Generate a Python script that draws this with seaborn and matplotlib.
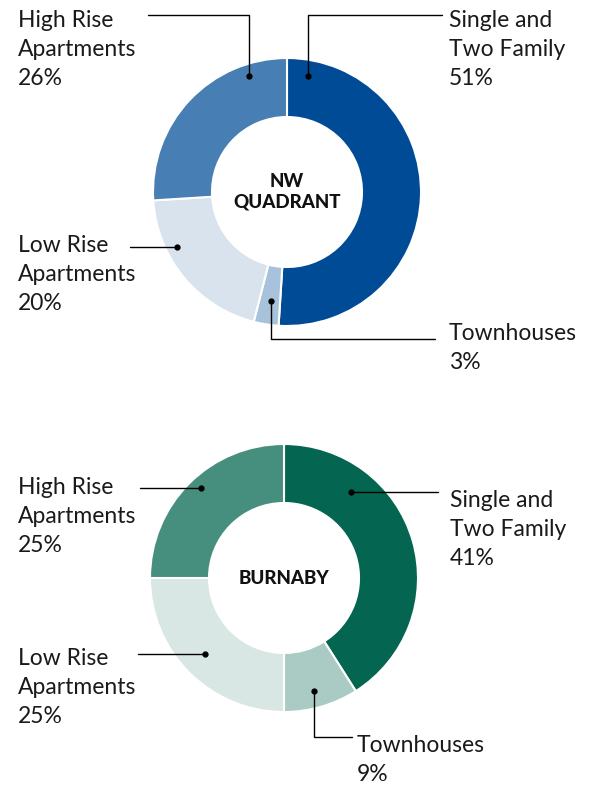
import matplotlib
matplotlib.use("Agg")
import matplotlib.pyplot as plt
import seaborn as sns

# data (clockwise from 12 o'clock)
categories = ["Single and\nTwo Family", "Townhouses", "Low Rise\nApartments", "High Rise\nApartments"]
nw_values = [51, 3, 20, 26]
burnaby_values = [41, 9, 25, 25]
nw_colors = ["#004B96", "#A9C2DC", "#D9E3EE", "#477EB3"]
burnaby_colors = ["#046650", "#A9CBC3", "#D8E7E3", "#468E7E"]

W, H = 596, 785

sns.set_theme(style="white")
plt.rcParams["font.family"] = ["Lato", "DejaVu Sans"]

fig = plt.figure(figsize=(W / 100, H / 100), dpi=100)
ax = fig.add_axes([0, 0, 1, 1])


def py(y):
    # pixel row (from top) -> data y
    return H - y


def donut(values, colors, cx, cy, title):
    ax.pie(values, colors=colors, startangle=90, counterclock=False,
           center=(cx, py(cy)), radius=134,
           wedgeprops=dict(width=59, edgecolor="white", linewidth=1.5))
    ax.text(cx, py(cy), title, ha="center", va="center", fontsize=13.5,
            fontweight="black", color="#111111", linespacing=1.25)


def leader(points, label, value, tx, ty):
    xs = [p[0] for p in points]
    ys = [py(p[1]) for p in points]
    ax.plot(xs, ys, color="black", lw=1)
    ax.plot(xs[0], ys[0], "o", color="black", ms=3.5)
    ax.text(tx, py(ty), f"{label}\n{value}%", ha="left", va="top",
            fontsize=16.5, color="#1a1a1a", linespacing=1.47)


# NW Quadrant
donut(nw_values, nw_colors, 287, 192, "NW\nQUADRANT")
leader([(308, 76), (308, 15), (442, 15)], categories[0], nw_values[0], 449, 10)
leader([(271, 301), (271, 339), (435, 339)], categories[1], nw_values[1], 449, 323)
leader([(177, 247), (130, 247)], categories[2], nw_values[2], 18, 235)
leader([(249, 76), (249, 15), (148, 15)], categories[3], nw_values[3], 18, 10)

# Burnaby
donut(burnaby_values, burnaby_colors, 284, 578, "BURNABY")
leader([(351, 492), (438, 492)], categories[0], burnaby_values[0], 450, 490)
leader([(314, 691), (314, 737), (352, 737)], categories[1], burnaby_values[1], 357, 735)
leader([(205, 654), (138, 654)], categories[2], burnaby_values[2], 18, 648)
leader([(201, 488), (140, 488)], categories[3], burnaby_values[3], 18, 477)

ax.set_xlim(0, W)
ax.set_ylim(0, H)
ax.set_aspect("equal")
ax.axis("off")

fig.savefig("out.png", dpi=100, facecolor="white")
